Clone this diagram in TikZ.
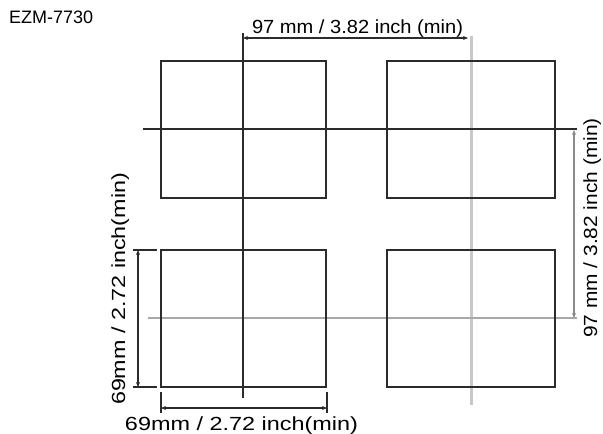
\documentclass[tikz,border=0pt]{standalone}
\usepackage{fontspec}
\setmainfont{Liberation Sans}
\usetikzlibrary{arrows.meta}
\definecolor{dk}{HTML}{2B2B2B}
\definecolor{lg}{HTML}{C8C8C8}
\definecolor{mg}{HTML}{A8A8A8}
\definecolor{dg}{HTML}{8A8A8A}
\begin{document}
\begin{tikzpicture}[x=1pt,y=-1pt,
  box/.style={draw=dk, line width=2pt, minimum height=137pt, inner sep=0pt},
  darkline/.style={draw=dk, line width=2pt},
  lightline/.style={draw=lg, line width=3pt},
  midline/.style={draw=mg, line width=2.5pt},
  dimline/.style={draw=dk, line width=1.5pt, {Stealth[length=5pt,width=4pt]}-{Stealth[length=5pt,width=4pt]}},
  tick/.style={draw=dk, line width=1.5pt},
  lbl/.style={inner sep=0pt, anchor=base, text=black, font=\fontsize{19}{22}\selectfont}]
\useasboundingbox (0,0) rectangle (603,434);
\fill[white] (0,0) rectangle (603,434);

% light centre lines (behind)
\coordinate (gv1) at (471,36);
\coordinate (gv2) at (471,405);
\coordinate (gh1) at (148,318);
\coordinate (gh2) at (577,318);
\draw[lightline] (gv1) -- (gv2);
\draw[midline] (gh1) -- (gh2);

% boxes
\node[box, minimum width=165pt] (tl) at (243.5,129.5) {};
\node[box, minimum width=168pt] (tr) at (471,129.5) {};
\node[box, minimum width=165pt] (bl) at (243.5,318.5) {};
\node[box, minimum width=168pt] (br) at (471,318.5) {};

% dark centre lines
\coordinate (dv1) at (243,33);
\coordinate (dv2) at (243,398);
\coordinate (dh1) at (143,129);
\coordinate (dh2) at (577,129);
\draw[darkline] (dv1) -- (dv2);
\draw[darkline] (dh1) -- (dh2);

% top dimension
\coordinate (ta) at (243,38);
\coordinate (tb) at (468,38);
\draw[dimline] (ta) -- (tb);
\node[lbl] (ttxt) at (357.5,33) {\scalebox{1.057}[1]{97 mm / 3.82 inch (min)}};

% right dimension
\coordinate (ra) at (574,130);
\coordinate (rb) at (574,318);
\draw[dimline, draw=dg] (ra) -- (rb);
\node[lbl, rotate=90] (rtxt) at (597,228) {\scalebox{1.10}[1]{97 mm / 3.82 inch (min)}};

% left dimension
\coordinate (la) at (138,250);
\coordinate (lb) at (138,387);
\coordinate (lt1a) at (133,250);
\coordinate (lt1b) at (157,250);
\coordinate (lt2a) at (133,387);
\coordinate (lt2b) at (157,387);
\draw[tick] (lt1a) -- (lt1b);
\draw[tick] (lt2a) -- (lt2b);
\draw[dimline] (la) -- (lb);
\node[lbl, rotate=90] (ltxt) at (125,289) {\scalebox{1.227}[1]{69mm / 2.72 inch(min)}};

% bottom dimension
\coordinate (ba) at (161,408);
\coordinate (bb) at (327,408);
\coordinate (bt1a) at (161,392);
\coordinate (bt1b) at (161,413);
\coordinate (bt2a) at (327,392);
\coordinate (bt2b) at (327,413);
\draw[tick] (bt1a) -- (bt1b);
\draw[tick] (bt2a) -- (bt2b);
\draw[dimline] (ba) -- (bb);
\node[lbl] (btxt) at (241.5,430) {\scalebox{1.233}[1]{69mm / 2.72 inch(min)}};

% title
\node[inner sep=0pt, anchor=base west, font=\fontsize{18}{21}\selectfont] (title) at (9,23) {EZM-7730};
\end{tikzpicture}
\end{document}
